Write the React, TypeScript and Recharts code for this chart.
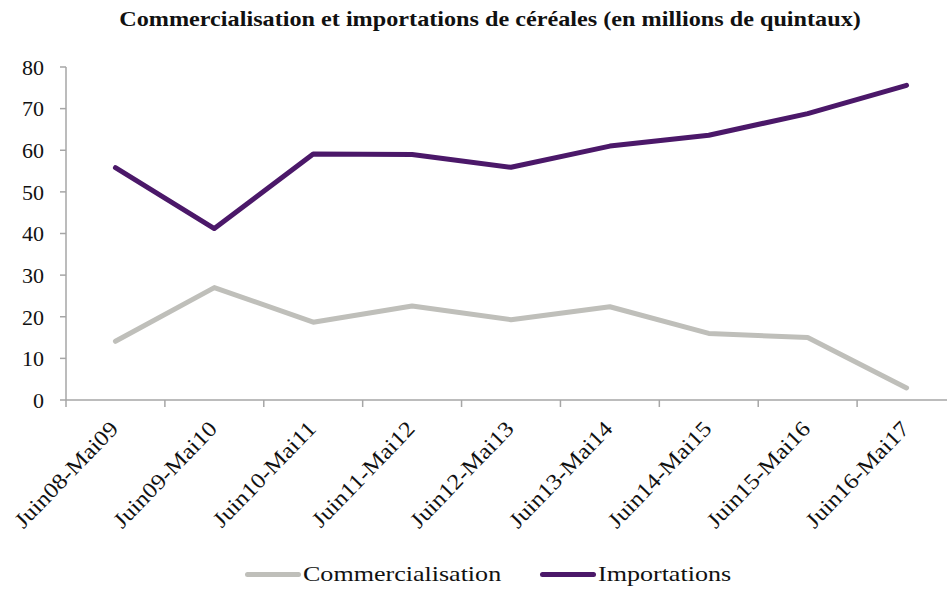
import { Line, LineChart, XAxis, YAxis } from 'recharts'

const CATEGORIES = [
  'Juin08-Mai09',
  'Juin09-Mai10',
  'Juin10-Mai11',
  'Juin11-Mai12',
  'Juin12-Mai13',
  'Juin13-Mai14',
  'Juin14-Mai15',
  'Juin15-Mai16',
  'Juin16-Mai17',
]
const COMMERCIALISATION = [14.1, 27.0, 18.7, 22.6, 19.3, 22.4, 16.0, 15.0, 2.9]
const IMPORTATIONS = [55.8, 41.2, 59.1, 59.0, 55.9, 61.0, 63.6, 68.8, 75.6]
const Y_TICKS = [0, 10, 20, 30, 40, 50, 60, 70, 80]

const SERIES = [
  { key: 'commercialisation', name: 'Commercialisation', color: '#BFBFBA', left: 245 },
  { key: 'importations', name: 'Importations', color: '#4B1869', left: 540 },
]

const data = CATEGORIES.map((cat, i) => ({
  cat,
  commercialisation: COMMERCIALISATION[i],
  importations: IMPORTATIONS[i],
}))

const FONT = 'Liberation Serif, Times New Roman, DejaVu Serif'
const CHART_W = 960
const Y_AXIS_W = 66
const MARGIN_RIGHT = 4
const HALF_BAND = (CHART_W - Y_AXIS_W - MARGIN_RIGHT) / CATEGORIES.length / 2

const CategoryTick = (props: any) => {
  const { x, y, payload } = props
  return (
    <g>
      <line x1={x - HALF_BAND} y1={y} x2={x - HALF_BAND} y2={y + 7} stroke="#A6A6A6" strokeWidth={1.5} />
      <text
        transform={`translate(${x + 4}, ${y + 30}) rotate(-46) scale(1.12, 1)`}
        textAnchor="end"
        fontSize={22}
        fontFamily={FONT}
        fill="#111"
      >
        {payload.value}
      </text>
    </g>
  )
}

export default function App() {
  return (
    <div
      style={{
        position: 'absolute',
        left: 0,
        top: 0,
        width: 947,
        height: 590,
        overflow: 'hidden',
        background: '#fff',
        fontFamily: FONT,
      }}
    >
      <div
        style={{
          position: 'absolute',
          left: 0,
          width: 980,
          top: 6,
          textAlign: 'center',
          fontWeight: 'bold',
          fontSize: 22,
          color: '#111',
          transform: 'scaleX(1.1)',
          transformOrigin: '490px 0',
        }}
      >
        Commercialisation et importations de céréales (en millions de quintaux)
      </div>
      <LineChart
        width={CHART_W}
        height={590}
        data={data}
        margin={{ top: 67, right: MARGIN_RIGHT, left: 0, bottom: 40 }}
      >
        <XAxis
          dataKey="cat"
          scale="band"
          interval={0}
          height={150}
          axisLine={{ stroke: '#A6A6A6', strokeWidth: 1.5 }}
          tickLine={false}
          tickSize={0}
          tickMargin={0}
          tick={<CategoryTick />}
        />
        <YAxis
          width={Y_AXIS_W}
          domain={[0, 80]}
          ticks={Y_TICKS}
          interval={0}
          axisLine={{ stroke: '#A6A6A6', strokeWidth: 1.5 }}
          tickLine={{ stroke: '#A6A6A6', strokeWidth: 1.5 }}
          tickSize={6}
          tickMargin={16}
          tick={{ fontSize: 22, fontFamily: FONT, fill: '#111' }}
        />
        {SERIES.map((s) => (
          <Line
            key={s.key}
            dataKey={s.key}
            name={s.name}
            stroke={s.color}
            strokeWidth={5}
            strokeLinecap="round"
            strokeLinejoin="round"
            dot={false}
            activeDot={false}
            isAnimationActive={false}
          />
        ))}
      </LineChart>
      {SERIES.map((s) => (
        <div
          key={s.key}
          style={{
            position: 'absolute',
            top: 562,
            left: s.left,
            display: 'flex',
            alignItems: 'center',
            fontSize: 21,
            color: '#111',
            whiteSpace: 'nowrap',
          }}
        >
          <div style={{ width: 56, height: 5, borderRadius: 3, background: s.color, marginRight: 2 }} />
          <span style={{ display: 'inline-block', transform: 'scaleX(1.24)', transformOrigin: '0 0' }}>
            {s.name}
          </span>
        </div>
      ))}
    </div>
  )
}
